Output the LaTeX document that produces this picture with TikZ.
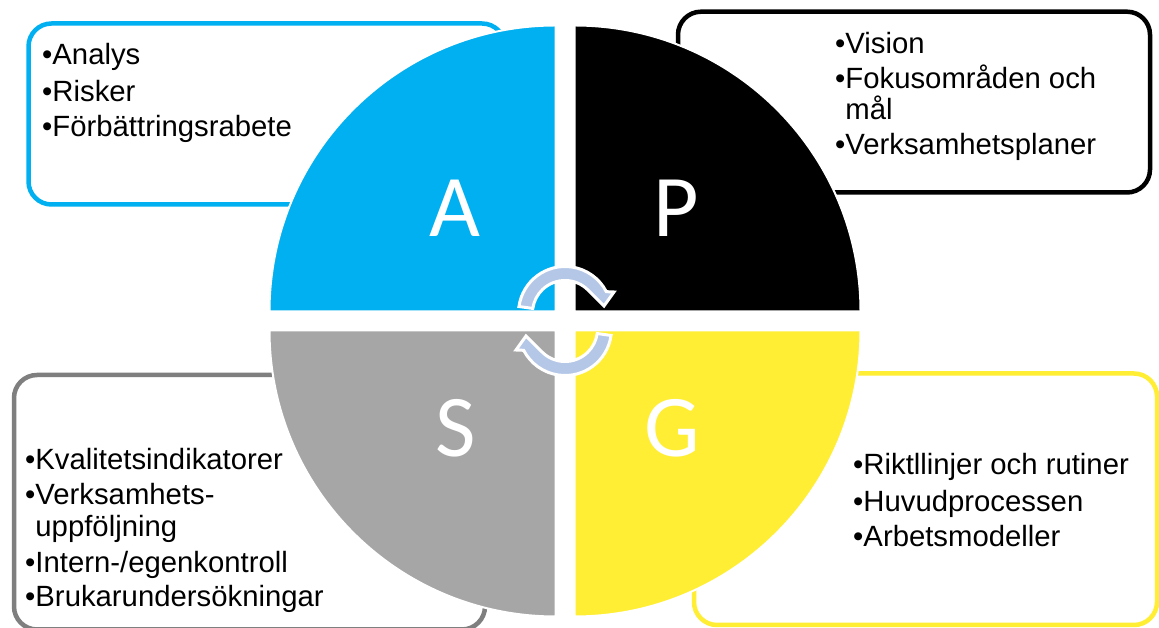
\documentclass[tikz,border=0pt]{standalone}
\usepackage{fontspec}
\setmainfont{Liberation Sans}
\newfontfamily\bigletter{Carlito}
\definecolor{qblue}{HTML}{00B0F0}
\definecolor{qgray}{HTML}{A6A6A6}
\definecolor{bgray}{HTML}{7F7F7F}
\definecolor{qyellow}{HTML}{FFEE33}
\definecolor{arrowblue}{HTML}{B4C7E7}
\begin{document}
\begin{tikzpicture}[x=1pt,y=1pt,
  box/.style={line width=4.5pt, rounded corners=23pt},
  quad/.style={draw=white, line width=2pt},
  txt/.style={anchor=base west, inner sep=0pt, font=\fontsize{29.3}{35}\selectfont},
  letter/.style={anchor=base, inner sep=0pt, text=white, font=\bigletter\fontsize{88}{100}\selectfont},
  cyc/.style={fill=arrowblue, draw=white, line width=3pt, line join=miter}]
\useasboundingbox[fill=white] (0,0) rectangle (1159,628);

% text boxes
\draw[box, draw=qblue]   (28.5,423.5) rectangle (505,604.5);
\draw[box, draw=black]   (678,435.5) rectangle (1150,616.3);
\draw[box, draw=bgray]   (14,-1.5) rectangle (485,253);
\draw[box, draw=qyellow] (694,3) rectangle (1157,254.5);

% quadrants
\path[quad, fill=qblue]   (555.5,316.5) -- (269.5,316.5) arc[start angle=180, end angle=90, radius=286pt] -- cycle;
\path[quad, fill=black]   (574.5,316.5) -- (574.5,602.5) arc[start angle=90, end angle=0, radius=286pt] -- cycle;
\path[quad, fill=qgray]   (555.5,297.5) -- (269.5,297.5) arc[start angle=180, end angle=270, radius=286pt] -- cycle;
\path[quad, fill=qyellow] (574.5,297.5) -- (860.5,297.5) arc[start angle=0, end angle=-90, radius=286pt] -- cycle;

% big letters
\node[letter] (A) at (455,391) {A};
\node[letter] (P) at (676.5,391) {P};
\node[letter] (S) at (455.5,171) {S};
\node[letter] (G) at (672.5,171) {G};

% cycle arrows
\begin{scope}[shift={(565,315)}]
\path[cyc] (172:46.5) arc[start angle=172, end angle=27.3, radius=46.5pt] -- (49,21) -- (39,7) -- (43.7:32.5) arc[start angle=43.7, end angle=172, radius=32.5pt] -- cycle;
\end{scope}
\begin{scope}[shift={(565,299)}]
\path[cyc] (352:46.5) arc[start angle=352, end angle=207.3, radius=46.5pt] -- (-49,-21) -- (-39,-7) -- (223.7:32.5) arc[start angle=223.7, end angle=352, radius=32.5pt] -- cycle;
\end{scope}

% A texts
\node[txt] (a1) at (42,563) {•Analys};
\node[txt] (a2) at (42,526.3) {•Risker};
\node[txt] (a3) at (42,491.3) {•Förbättringsrabete};
% P texts
\node[txt] (p1) at (835,574) {•Vision};
\node[txt] (p2) at (835,539) {•Fokusområden och};
\node[txt] (p3) at (835,508.5) {\hphantom{•}mål};
\node[txt] (p4) at (835,473) {•Verksamhetsplaner};
% S texts
\node[txt] (s1) at (25,158) {•Kvalitetsindikatorer};
\node[txt] (s2) at (25,123) {•Verksamhets-};
\node[txt] (s3) at (25,91.5) {\hphantom{•}uppföljning};
\node[txt] (s4) at (25,55) {•Intern-/egenkontroll};
\node[txt] (s5) at (25,21.5) {•Brukarundersökningar};
% G texts
\node[txt] (g1) at (853,153) {•Riktllinjer och rutiner};
\node[txt] (g2) at (853,116.3) {•Huvudprocessen};
\node[txt] (g3) at (853,81.3) {•Arbetsmodeller};
\end{tikzpicture}
\end{document}
